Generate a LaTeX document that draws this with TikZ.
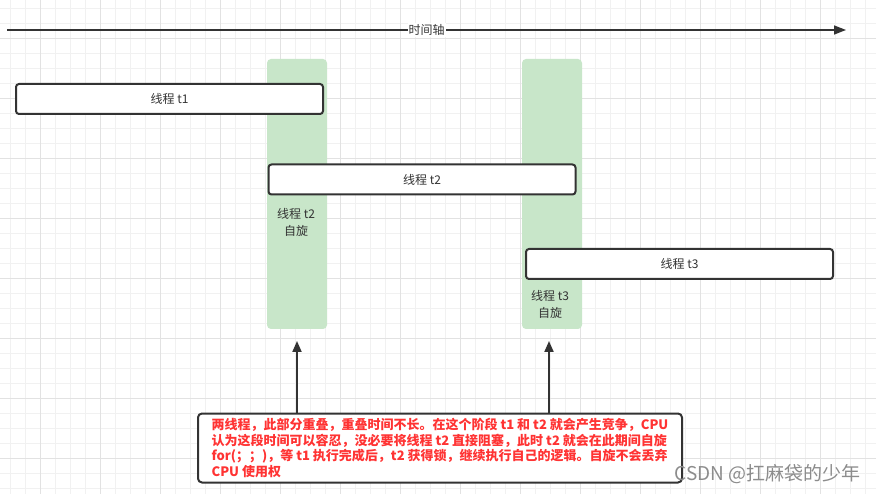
\documentclass[tikz,border=0pt]{standalone}
\usepackage{fontspec}
\usetikzlibrary{arrows.meta,positioning}
\newfontfamily\cjk{Noto Sans CJK SC}
\definecolor{SpinInk}{HTML}{333333}
\definecolor{SpinGreen}{HTML}{C8E6C9}
\definecolor{SpinRed}{HTML}{FF3333}
\definecolor{SpinGridMinor}{HTML}{F1F1F1}
\definecolor{SpinGridMajor}{HTML}{E2E2E2}
\definecolor{SpinMark}{HTML}{8C8C8C}

\begin{document}
\begin{tikzpicture}[x=1pt,y=-1pt,
    thread/.style={draw=SpinInk,line width=2pt,rounded corners=3pt,fill=white,
      minimum width=307pt,minimum height=30pt,inner sep=0pt,text=SpinInk,
      font=\cjk\fontsize{12}{14}\selectfont},
    spinband/.style={fill=SpinGreen,rounded corners=4pt,minimum width=60pt,
      minimum height=270pt,inner sep=0pt},
    spintext/.style={align=center,text=SpinInk,inner sep=0pt,
      font=\cjk\fontsize{12}{16.5}\selectfont},
    pointer/.style={draw=SpinInk,line width=2pt,-{Triangle[length=11pt,width=9pt]}},
    note/.style={draw=SpinInk,line width=2pt,rounded corners=4pt,fill=white,
      minimum width=484pt,minimum height=69pt,inner sep=0pt,align=left,
      text=SpinRed,font=\cjk\bfseries\fontsize{13}{15.8}\selectfont}]
        \useasboundingbox (0,0) rectangle (876,494);
        \fill[white] (0,0) rectangle (876,494);
        \foreach \gx in {10,25,...,870}
          \draw[SpinGridMinor,line width=1pt] (\gx,0) -- (\gx,494);
        \foreach \gy in {8.3,23.3,...,490}
          \draw[SpinGridMinor,line width=1pt] (0,\gy) -- (876,\gy);
        \foreach \gx in {40,100,...,820}
          \draw[SpinGridMajor,line width=1pt] (\gx,0) -- (\gx,494);
        \foreach \gy in {38.3,98.3,...,460}
          \draw[SpinGridMajor,line width=1pt] (0,\gy) -- (876,\gy);

        \node[spinband] (spin2) at (297,194) {};
        \node[spinband] (spin3) at (552,194) {};
        \node[spintext] (spin2txt) at (296,222.5) {线程 t2\\自旋};
        \node[spintext] (spin3txt) at (550,304.5) {线程 t3\\自旋};

        \node[thread] (t1) at (169.5,99) {线程 t1};
        \node[thread] (t2) at (422,179.5) {线程 t2};
        \node[thread] (t3) at (679.5,264) {线程 t3};

        \coordinate (axisL) at (7,30);
        \coordinate (axisR) at (846,30);
        \draw[SpinInk,line width=1.5pt,-{Triangle[length=12pt,width=9pt]}]
          (axisL) -- (axisR)
          node[pos=0.5,fill=white,inner sep=1pt,text=SpinInk,
            font=\cjk\fontsize{12}{14}\selectfont] (axislbl) {时间轴};

        \node[note] (note) at (440,448) {两线程，此部分重叠，重叠时间不长。在这个阶段 t1 和 t2 就会产生竞争，CPU\\
          认为这段时间可以容忍，没必要将线程 t2 直接阻塞，此时 t2 就会在此期间自旋\\
          for(；；)，等 t1 执行完成后，t2 获得锁，继续执行自己的逻辑。自旋不会丢弃\\
          CPU 使用权};
        \coordinate (tip2) at (297,341);
        \coordinate (tip3) at (549,341);
        \draw[pointer] (note.north -| tip2) -- (tip2);
        \draw[pointer] (note.north -| tip3) -- (tip3);

        \node[anchor=east,text=SpinMark,inner sep=0pt,
          font=\cjk\fontsize{19}{22}\selectfont] (mark) at (861,474) {CSDN @扛麻袋的少年};
      \end{tikzpicture}
\end{document}
